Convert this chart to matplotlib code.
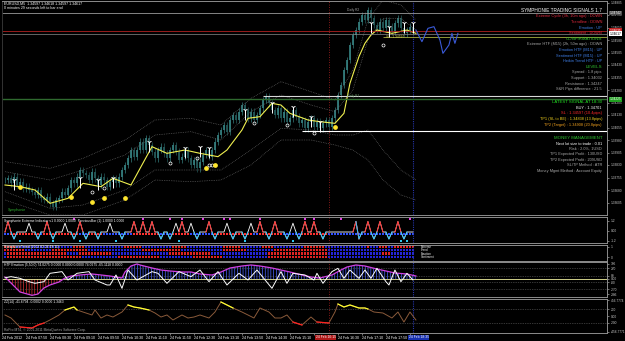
import numpy as np
import matplotlib
matplotlib.use('Agg')
import matplotlib.pyplot as plt
import matplotlib.transforms as mtransforms

plt.rcParams['font.family'] = ['Liberation Sans', 'DejaVu Sans']
plt.rcParams['hatch.linewidth'] = 0.5

# EURUSD M5, closes in pips above 1.3350, one per bar
close_pips = [24, 25, 22, 26, 21, 23, 19, 20, 18,
              17, 15, 18, 13, 12, 14, 10, 8, 12,
              13, 17, 15, 19, 24, 22, 26, 30, 28,
              27, 24, 29, 25, 21, 26, 24, 20, 23,
              25, 22, 26, 30, 33, 37, 42, 38, 42,
              47, 42, 49, 45, 41, 37, 42, 44, 40,
              37, 42, 45, 41, 36, 38, 42, 37, 33,
              36, 31, 35, 39, 42, 38, 42, 47, 51,
              54, 57, 53, 60, 63, 60, 65, 69, 66,
              61, 65, 60, 63, 67, 72, 74, 70, 66,
              63, 67, 61, 65, 59, 61, 66, 62, 58,
              60, 55, 59, 61, 56, 59, 55, 58, 60,
              56, 61, 66, 75, 81, 90, 96, 105, 111,
              114, 119, 123, 120, 126, 121, 117, 114, 119,
              115, 120, 116, 113, 118, 121, 115, 112, 114, 116, 113]

ma_bars = [0, 5, 10, 15, 21, 26, 32, 36, 42, 49, 54, 60, 65, 71, 74, 79, 81,
           85, 89, 92, 95, 101, 105, 110, 113, 115, 118, 120, 122, 124, 129, 134, 137]
ma_pips = [21, 20, 18, 10, 13, 22, 20, 25, 21, 44, 40, 42, 40, 38, 42, 54, 61,
           62, 70, 69, 64, 60, 59, 58, 64, 82, 98, 106, 111, 114, 112, 114, 112]

band_bars = [0, 15, 26, 40, 50, 62, 72, 82, 92, 102, 110, 116, 121, 126, 132, 137]
upper_outer = [35, 31, 37, 48, 60, 61, 57, 73, 83, 77, 72, 90, 120, 132, 129, 120]
upper_inner = [29, 24, 30, 39, 51, 53, 48, 65, 75, 69, 65, 78, 108, 121, 121, 114]
lower_outer = [12, 3, 3, 12, 24, 23, 24, 33, 48, 48, 45, 42, 36, 24, 15, 12]
lower_inner = [17, 7, 9, 18, 30, 30, 30, 42, 55, 54, 51, 51, 54, 42, 30, 24]

arrow_bars = [3, 25, 31, 36, 48, 60, 65, 68, 80, 89, 96, 102, 105, 122, 128, 133, 136]
arrow_pips = [24, 25, 24, 25, 47, 43, 44, 43, 66, 70, 68, 62, 59, 118, 116, 118, 118]
ring_bars = [29, 33, 55, 64, 68, 69, 83, 94, 103, 126]
ring_pips = [17, 19, 34, 37, 33, 33, 58, 57, 52, 105]
dot_bars = [5, 22, 29, 33, 40, 67, 70, 110]
dot_pips = [20, 14, 11, 13, 13, 31, 33, 56]

proj_bars = [137, 139, 141, 143, 145, 146, 148, 149, 150, 151]
proj_pips = [114, 107, 115, 116, 108, 100, 105, 112, 106, 112]

daily_r2 = 1.34742
ask = 1.34635
bid = 1.34617
stop_loss = 1.34597
resistance = 1.34247
daily_r1 = 1.34225
support = 1.34032

# Symphonie Extreme Indicator
ext_up = [1, 14, 25, 43, 46, 49, 59, 68, 85, 90, 100, 103, 117, 121, 125, 131]
ext_white = [8, 20, 35, 57, 62, 74, 82, 96]
ext_down = [3, 11, 16, 23, 27, 31, 39, 52, 55, 64, 70, 76, 80, 88, 94, 98,
            106, 118, 123, 128, 133]
zero_red = [(2, 11), (13, 24), (28, 32), (43, 51), (56, 61), (70, 82), (85, 92), (99, 107)]
magenta_dots = [23, 46, 55, 59, 66, 73, 75, 85, 100, 103, 112, 135]
cyan_dots = [5, 16, 25, 37, 58, 80, 96, 132, 134]

# SymphonieTrend rows, red bar ranges (rest blue)
trend_rows = ['Sentiment', 'Emotion', 'Trend', 'Extreme']
trend_red = [
    [(1, 25), (38, 51), (63, 72), (88, 107)],
    [(1, 20), (25, 35), (55, 68), (88, 107), (126, 128)],
    [(0, 6), (16, 27), (46, 58), (73, 80), (90, 107)],
    [(0, 3), (23, 26), (40, 45), (56, 60), (73, 78), (86, 89), (100, 106),
     (121, 121), (125, 127), (130, 136)],
]

# HTF Emotion
env_bars = [0, 2, 5, 9, 11, 13, 15, 18, 20, 22, 25, 29, 32, 35, 39, 40, 42, 44,
            45, 49, 52, 55, 59, 62, 65, 69, 72, 75, 79, 82, 85, 89, 92, 95, 99,
            102, 105, 109, 112, 114, 117, 120, 124, 127, 130, 134, 137]
env_vals = [51, -103, -334, -420, -386, -231, -154, -77, 26, 77, 103, 129, 103,
            77, 26, 180, 334, 386, 360, 283, 231, 206, 180, 180, 129, 103, 180,
            283, 334, 360, 334, 283, 231, 180, 103, 51, 26, 103, 231, 308, 360,
            334, 257, 206, 154, 129, 77]
em_bars = [0, 2, 5, 8, 10, 13, 15, 19, 21, 24, 28, 30, 34, 35, 37, 39, 41, 44,
           49, 51, 54, 58, 62, 65, 68, 71, 74, 78, 81, 84, 89, 92, 94, 96, 100,
           103, 104, 106, 109, 111, 113, 115, 118, 120, 122, 124, 127, 128, 130,
           132, 134, 136]
em_vals = [30, 60, 17, -69, -111, -69, 146, 189, -26, 146, 189, -26, -154, -154,
           103, -240, 231, -26, 189, 146, -111, 189, 60, 231, -69, 189, -154, 146,
           -26, 231, -240, 189, -111, 146, 103, -26, 146, -111, 189, 274, 17, 231,
           17, 231, 17, 274, -69, -154, 231, -69, 146, -26]

# ZZ(14)
zz_bars = [0, 2, 5, 9, 11, 13, 15, 18, 20, 23, 24, 26, 29, 30, 32, 34, 36, 39,
           41, 43, 45, 48, 50, 52, 54, 56, 59, 61, 63, 65, 68, 70, 72, 74, 76,
           79, 81, 83, 85, 88, 90, 92, 94, 96, 99, 102, 104, 108, 110, 111, 113,
           115, 118, 120, 121, 123, 126, 129, 131, 133, 135, 137]
zz_vals = [29, -57, -315, -343, -257, -200, -114, 29, 172, 257, 172, 114, 29,
           172, -57, 29, -29, 114, 315, 257, 229, 172, 86, -29, 29, -114, 29, -57,
           -29, 29, -57, 114, 400, 315, 229, 114, 29, -57, 229, 114, -57, -57, 29,
           -172, -257, -29, -172, -200, 114, 343, 257, 315, 229, 229, 200, 114, 86,
           -57, 114, -172, 114, -114]

date_bars = [-1, 7, 15, 23, 31, 39, 47, 55, 63, 71, 79, 87, 95, 103, 111, 119, 127, 135]
date_labels = ['24 Feb 2012', '24 Feb 07:50', '24 Feb 08:30', '24 Feb 09:10',
               '24 Feb 09:50', '24 Feb 10:30', '24 Feb 11:10', '24 Feb 11:50',
               '24 Feb 12:30', '24 Feb 13:10', '24 Feb 13:50', '24 Feb 14:30',
               '24 Feb 15:10', '24 Feb 15:50', '24 Feb 16:30', '24 Feb 17:10',
               '24 Feb 17:50', '24 Feb 18:30']
# time markers of the two vertical lines (shown boxed on the time axis)
marker_bars = [108, 136]
marker_labels = ['24 Feb 16:15', '24 Feb 18:35']

signal_head = ['Extreme Cycle (3h, 10m ago) : DOWN', 'Trendline : DOWN', 'Emotion : UP',
               'Sentiment : DOWN', 'CONFIRMATIONS', 'Extreme HTF (M15) (2h, 50m ago) : DOWN',
               'Emotion HTF (M15) : UP', 'Sentiment HTF (M15) : UP', 'Heikin Trend HTF : UP',
               'LEVELS', 'Spread : 1.8 pips', 'Support : 1.34032', 'Resistance : 1.34247',
               'S&R Pips difference : 21.5']
signal_trade = ['LATEST SIGNAL AT 18:30', 'BUY : 1.34701', 'SL : 1.34597 (10.4pips)',
                'TP1 (SL to BE) : 1.34838 (13.8pips)', 'TP2 (Target) : 1.34908 (20.8pips)']
signal_money = ['MONEY MANAGEMENT', 'Next lot size to trade : 0.01', 'Risk : 2.0%, 1USD',
                'TP1 Expected Profit : 130USD', 'TP2 Expected Profit : 209USD',
                'SL/TP Method : ATR', 'Money Mgmt Method : Account Equity']

RED, BLUE, GREEN, GRAY = '#e0283c', '#3f7fe8', '#2fc02f', '#a8a8a8'
head_colors = [RED, RED, BLUE, RED, GREEN, GRAY, BLUE, BLUE, BLUE, GREEN, GRAY, GRAY, GRAY, GRAY]
trade_colors = ['#22e022', 'white', '#ff2a2a', '#f2d21e', '#f2a21e']
money_colors = [GREEN, 'white', GRAY, GRAY, GRAY, GRAY, GRAY]

W, H = 625, 341
fig = plt.figure(figsize=(W / 100, H / 100), dpi=100, facecolor='black')


def fy(ypix):
    return 1 - ypix / H


def panel(top, bottom):
    ax = fig.add_axes([2 / W, 1 - bottom / H, 605 / W, (bottom - top) / H])
    ax.set_facecolor('black')
    for s in ax.spines.values():
        s.set_color('#8c8c8c')
        s.set_linewidth(0.7)
    ax.spines['left'].set_color('#333333')
    ax.set_xlim(-1, 200.7)
    ax.set_xticks([])
    ax.yaxis.tick_right()
    ax.tick_params(axis='y', colors='#c8c8c8', labelsize=2.3, length=1.5, width=0.4, pad=1)
    ax.axvline(marker_bars[0], color='#b02020', ls=(0, (1, 2)), lw=0.6)
    ax.axvline(marker_bars[1], color='#2535a8', ls=(0, (1, 1)), lw=0.8)
    return ax


def price(p):
    return 1.3350 + np.asarray(p, float) / 1e4


# ---- main chart ----
ax = panel(1, 215)
bars = np.arange(len(close_pips))
c = price(close_pips)
o = np.r_[c[0], c[:-1]]
body_lo, body_hi = np.minimum(o, c), np.maximum(o, c)
cols = np.where(c >= o, '#347c7c', '#245858')
ax.vlines(bars, body_lo - 0.0002, body_hi + 0.0002, color=cols, lw=0.5)
ax.vlines(bars, body_lo, body_hi, color=cols, lw=1.3)

for band in (upper_outer, upper_inner, lower_outer, lower_inner):
    ax.plot(band_bars, price(band), color='#707070', ls=(0, (1, 1.5)), lw=0.5)
ax.plot(ma_bars, price(ma_pips), color='#f0f050', lw=0.8)

ax.axhline(daily_r2, color='#9a9a9a', lw=0.6)
ax.axhline(ask, color='#b02020', lw=0.6)
ax.axhline(bid, color='#8a8a8a', lw=0.5)
ax.hlines(stop_loss, 126, 201, color='#a8b040', lw=0.6)
ax.hlines(resistance, 86, 201, color='#d8d8d8', lw=0.8)
ax.axhline(daily_r1, color='#2f6a2f', lw=1.0)
ax.hlines(support, 99, 201, color='white', lw=0.8)

ax.vlines(arrow_bars, price(arrow_pips) - 0.0006, price(arrow_pips), color='white', lw=0.7)
ax.plot(arrow_bars, price(arrow_pips), ls='none', marker='1', ms=3.5, mew=0.7, color='white')
ax.plot(ring_bars, price(ring_pips), ls='none', marker='o', ms=2.2, mfc='none', mec='white', mew=0.5)
ax.plot(dot_bars, price(dot_pips), ls='none', marker='o', ms=2.4, color='#ffe62e')
ax.plot(proj_bars, price(proj_pips), color='#3a5ad8', lw=0.8)

ax.text(114, daily_r2 + 0.00004, 'Daily R2', fontsize=2.3, color='#a0a0a0', va='bottom')
ax.text(114, daily_r1 + 0.00004, 'Daily R1', fontsize=2.3, color='#6a9a6a', va='bottom')
ax.text(127, stop_loss, 'SL : 1.34597', fontsize=2.3, color='#c8c850', va='center')
ax.text(1, price(6), 'Symphonie', fontsize=2.6, color='#2fb02f', va='center')

ax.set_ylim(1.33530, 1.34814)
ticks = 1.34805 - 0.00075 * np.arange(17)
ax.set_yticks(ticks)
ax.set_yticklabels(['%.5f' % t for t in ticks])
tr = mtransforms.blended_transform_factory(ax.transAxes, ax.transData)
for val, fc, tc in [(daily_r2, '#505050', 'white'), (ask, '#c02020', 'white'),
                    (bid, 'white', 'black'), (daily_r1, '#20a020', 'white')]:
    ax.text(1.004, val, '%.5f' % val, transform=tr, fontsize=2.3, color=tc, va='center',
            ha='left', bbox=dict(boxstyle='square,pad=0.15', fc=fc, ec='none'))

fig.text(4 / W, fy(3.5), 'EURUSD,M5  1.34597 1.34618 1.34597 1.34617', fontsize=2.6,
         color='white', va='center')
fig.text(4 / W, fy(8), '0 minutes 29 seconds left to bar end', fontsize=2.6,
         color='white', va='center')

xr = 602 / W
fig.text(xr, fy(10), 'SYMPHONIE TRADING SIGNALS 1.7', fontsize=3.4, color='white',
         ha='right', va='center')
for i, (t, col) in enumerate(zip(signal_head, head_colors)):
    big = t.isupper()
    fig.text(xr, fy(16.5 + 5.6 * i), t, fontsize=3.2 if big else 2.8, color=col,
             ha='right', va='center')
for i, (t, col) in enumerate(zip(signal_trade, trade_colors)):
    fig.text(xr, fy(102 + 5.75 * i), t, fontsize=3.1 if i == 0 else 2.8, color=col,
             ha='right', va='center')
for i, (t, col) in enumerate(zip(signal_money, money_colors)):
    fig.text(xr, fy(138 + 5.5 * i), t, fontsize=3.2 if i == 0 else 2.8, color=col,
             ha='right', va='center')

# ---- Symphonie Extreme Indicator ----
ax2 = panel(217, 243)
base = -0.16
ext = np.full(len(close_pips), base)
ext[ext_white] = 0.9
ext[ext_up] = 1.1
ext[ext_down] = -1.0
zero_cols = ['#3050ff'] * len(close_pips)
for a, b in zero_red:
    zero_cols[a:b + 1] = ['#ff3030'] * (b + 1 - a)
ax2.scatter(bars, np.full(len(bars), -0.4), s=1.6, marker='s', c=zero_cols, lw=0)
ax2.plot(bars, ext, color='white', lw=0.6)
last = len(bars) - 1
for b in ext_up:
    ax2.plot([b - 1, b, b + 1], ext[[b - 1, b, min(b + 1, last)]], color='#ff2a2a', lw=0.7)
for b in ext_down:
    ax2.plot([b - 1, b, b + 1], ext[[b - 1, b, min(b + 1, last)]], color='#30c0f8', lw=0.7)
ax2.scatter(magenta_dots, np.full(len(magenta_dots), 1.4), s=2, marker='s', color='#e040e0', lw=0)
ax2.scatter(cyan_dots, np.full(len(cyan_dots), -1.18), s=2, marker='s', color='#30c8f0', lw=0)
ax2.set_ylim(-1.48, 1.64)
ax2.set_yticks([1.2, 0, -1.2])
ax2.set_yticklabels(['1.2', '0.00', '-1.2'])
ax2.text(0.004, 0.86, 'Symphonie Extreme Indicator v1 0.0000 1.0000  PreviousBar (1) 1.0000 1.0000',
         transform=ax2.transAxes, fontsize=2.4, color='white', va='center')

# ---- SymphonieTrend ----
ax3 = panel(245, 261)
for r, ranges in enumerate(trend_red):
    cols = ['#2424d8'] * len(close_pips)
    for a, b in ranges:
        cols[a:b + 1] = ['#e02424'] * (b + 1 - a)
    ax3.scatter(bars, np.full(len(bars), r), s=3.2, marker='s', c=cols, lw=0)
    ax3.text(138.5, r, trend_rows[r], fontsize=2.1, color='white', va='center')
ax3.set_ylim(-1.08, 3.49)
ax3.set_yticks([3, 0])
ax3.set_yticklabels(['1', '0'])
ax3.text(0.004, 0.88, 'SymphonieTrend (2012.02.24 18:11)', transform=ax3.transAxes,
         fontsize=2.4, color='white', va='center')

# ---- HTF Emotion ----
ax4 = panel(262, 297)
ev = np.array(env_vals, float)
ax4.fill_between(env_bars, 0, ev, where=ev >= 0, interpolate=True, facecolor='none',
                 edgecolor='#4a64ff', hatch='||||||', lw=0)
ax4.fill_between(env_bars, 0, ev, where=ev <= 0, interpolate=True, facecolor='none',
                 edgecolor='#e03030', hatch='||||||', lw=0)
for lv in (270, 80, -80, -270):
    ax4.axhline(lv, color='#6a6a6a', ls=(0, (1, 1.5)), lw=0.5)
ax4.axhline(0, color='#f0f0a0', lw=0.6)
ax4.plot(env_bars, env_vals, color='#d040e0', lw=0.9)
ax4.plot(em_bars, em_vals, color='white', lw=0.7)
ax4.set_ylim(-463, 437)
ax4.set_yticks([386, 270, 80, 0, -80, -270, -386])
ax4.set_yticklabels(['386', '270', '80', '0.00', '-80', '-270', '-386'])
ax4.text(0.004, 0.92, 'HTF Emotion (5,50,0) 74.0275 0.0000 0.0000 0.0000 74.0275 -65.1118 0.0000',
         transform=ax4.transAxes, fontsize=2.4, color='white', va='center')

# ---- ZZ(14) ----
ax5 = panel(299, 333)
zv = np.array(zz_vals, float)
for lv in (200, -200):
    ax5.axhline(lv, color='#6a6a6a', ls=(0, (1, 1.5)), lw=0.5)
ax5.plot(zz_bars, zv, color='#8a5a3a', lw=0.7)
ax5.plot(zz_bars, np.ma.masked_where(zv < 165, zv), color='#ffff30', lw=0.9)
ax5.plot(zz_bars, np.ma.masked_where(zv > -165, zv), color='#ff2020', lw=0.9)
ax5.set_ylim(-486, 486)
ax5.set_yticks([457, 200, 0, -200, -457])
ax5.set_yticklabels(['456.7774', '200', '0.00', '-200', '-456.7771'])
ax5.text(0.004, 0.92, 'ZZ(14) -41.6794 -0.0002 0.0000 1.3463', transform=ax5.transAxes,
         fontsize=2.4, color='white', va='center')
ax5.text(0.004, 0.1, 'RoPro MT4, \u00a9 2001-2011 MetaQuotes Software Corp.',
         transform=ax5.transAxes, fontsize=2.4, color='#a0a0a0', va='center')

# time axis: the labels that sit under the boxed marker times are left out
shown = ['' if any(m - 6 <= b <= m + 1 for m in marker_bars) else t
         for b, t in zip(date_bars, date_labels)]
ax5.set_xticks(date_bars)
ax5.set_xticklabels(shown, ha='left')
ax5.tick_params(axis='x', colors='#c8c8c8', labelcolor='white', labelsize=2.5,
                length=1.5, width=0.4, pad=1)
trx = mtransforms.blended_transform_factory(ax5.transData, ax5.transAxes)
ax5.text(marker_bars[0] - 1, -0.12, marker_labels[0], transform=trx, fontsize=2.4, color='white',
         ha='center', va='center', clip_on=False,
         bbox=dict(boxstyle='square,pad=0.15', fc='#b01818', ec='none'))
ax5.text(marker_bars[1] + 2, -0.12, marker_labels[1], transform=trx, fontsize=2.4, color='white',
         ha='center', va='center', clip_on=False,
         bbox=dict(boxstyle='square,pad=0.15', fc='#1830b0', ec='none'))

fig.savefig('out.png', dpi=100, facecolor='black')
